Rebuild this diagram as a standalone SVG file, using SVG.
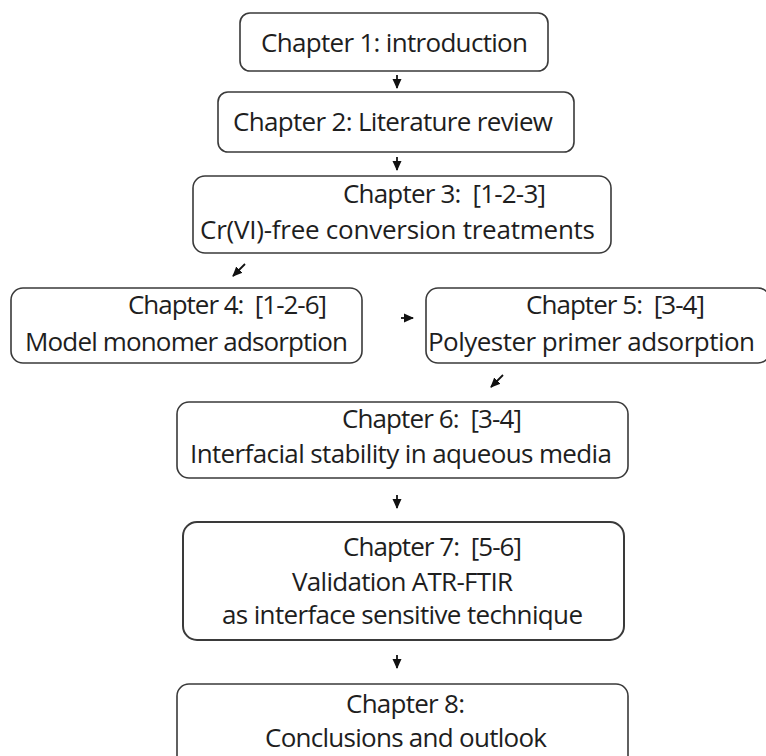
<svg xmlns="http://www.w3.org/2000/svg" width="766" height="756" viewBox="0 0 766 756">
  <defs>
    <style>
      .box { fill: #ffffff; stroke: #3a3a3a; stroke-width: 1.6; }
      .t { font-family: "Open Sans", "Liberation Sans", sans-serif; font-size: 26px; fill: #1e1e1e; }
      .c { stroke: #111; stroke-width: 1.8; fill: none; marker-end: url(#ah); }
    </style>
    <marker id="ah" viewBox="0 0 10 10" refX="9" refY="5" markerWidth="10" markerHeight="10" markerUnits="userSpaceOnUse" orient="auto">
      <path d="M0,0.5 L10,5 L0,9.5 Z" fill="#111"/>
    </marker>
  </defs>
  <rect width="766" height="756" fill="#ffffff"/>

  <g id="ch1">
    <rect class="box" x="240" y="13" width="308" height="58" rx="10"/>
    <text class="t" x="261" y="52" textLength="267">Chapter 1: introduction</text>
  </g>
  <g id="ch2">
    <rect class="box" x="218" y="92" width="356" height="60" rx="10"/>
    <text class="t" x="233" y="131" textLength="320">Chapter 2: Literature review</text>
  </g>
  <g id="ch3">
    <rect class="box" x="193" y="176" width="418" height="77" rx="12"/>
    <text class="t" x="343" y="203" textLength="203" xml:space="preserve">Chapter 3:  [1-2-3]</text>
    <text class="t" x="200" y="239" textLength="395">Cr(VI)-free conversion treatments</text>
  </g>
  <g id="ch4">
    <rect class="box" x="11" y="288" width="351" height="75" rx="12"/>
    <text class="t" x="128" y="314" textLength="199" xml:space="preserve">Chapter 4:  [1-2-6]</text>
    <text class="t" x="25" y="351" textLength="323">Model monomer adsorption</text>
  </g>
  <g id="ch5">
    <rect class="box" x="426" y="288" width="344" height="75" rx="12"/>
    <text class="t" x="526" y="314" textLength="179" xml:space="preserve">Chapter 5:  [3-4]</text>
    <text class="t" x="428" y="351" textLength="327">Polyester primer adsorption</text>
  </g>
  <g id="ch6">
    <rect class="box" x="177" y="402" width="451" height="76" rx="12"/>
    <text class="t" x="342" y="428" textLength="180" xml:space="preserve">Chapter 6:  [3-4]</text>
    <text class="t" x="190" y="463" textLength="422">Interfacial stability in aqueous media</text>
  </g>
  <g id="ch7">
    <rect class="box" x="183" y="522" width="441" height="118" rx="14" style="stroke-width:2"/>
    <text class="t" x="343" y="556" textLength="179" xml:space="preserve">Chapter 7:  [5-6]</text>
    <text class="t" x="292" y="591" textLength="221">Validation ATR-FTIR</text>
    <text class="t" x="222" y="624" textLength="361">as interface sensitive technique</text>
  </g>
  <g id="ch8">
    <rect class="box" x="177" y="684" width="451" height="90" rx="12"/>
    <text class="t" x="346" y="713" textLength="119">Chapter 8:</text>
    <text class="t" x="265" y="747" textLength="282">Conclusions and outlook</text>
  </g>

  <g id="connectors">
    <line class="c" x1="397" y1="75" x2="397" y2="88"/>
    <line class="c" x1="397" y1="157" x2="397" y2="170"/>
    <line class="c" x1="245" y1="264" x2="233" y2="276"/>
    <line class="c" x1="401" y1="318" x2="413" y2="318"/>
    <line class="c" x1="503" y1="375" x2="491" y2="387"/>
    <line class="c" x1="397" y1="495" x2="397" y2="508"/>
    <line class="c" x1="397" y1="655" x2="397" y2="668"/>
  </g>
</svg>
